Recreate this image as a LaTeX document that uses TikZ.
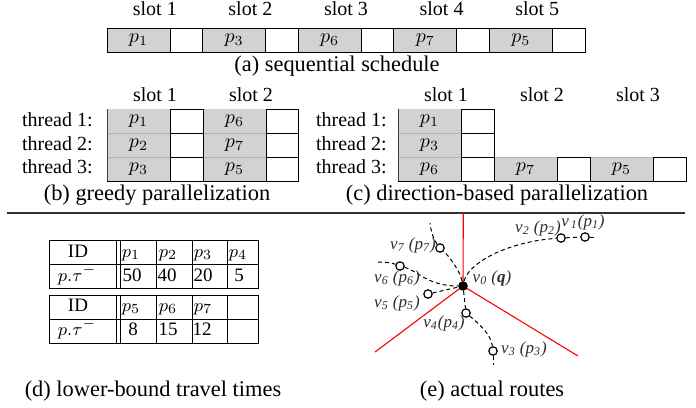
\documentclass[tikz,border=0pt]{standalone}
\usepackage{fontspec}
\setmainfont{Liberation Serif}
\begin{document}
\begin{tikzpicture}[x=0.5pt,y=-0.5pt,
  lbl/.style={font=\fontsize{10}{12}\selectfont, inner sep=0pt, anchor=base},
  thr/.style={font=\fontsize{10}{12}\selectfont, inner sep=0pt, anchor=base east},
  captxt/.style={font=\fontsize{11.2}{13}\selectfont, inner sep=0pt, anchor=base},
  cell/.style={font=\fontsize{10}{12}\selectfont, inner sep=0pt},
  tbl/.style={font=\fontsize{9.5}{11}\selectfont, inner sep=0pt, anchor=base},
  gfill/.style={fill=gray!35},
  gline/.style={draw=gray!60, line width=0.4pt},
  dline/.style={draw=black!75, line width=0.5pt},
  cellline/.style={draw=black, line width=0.5pt},
  route/.style={draw=black, line width=0.5pt, dash pattern=on 2pt off 1.5pt},
  vtx/.style={circle, draw=black, line width=0.6pt, fill=white, minimum size=4.2pt, inner sep=0pt},
  src/.style={circle, fill=black, minimum size=4.8pt, inner sep=0pt},
  vl/.style={font=\fontsize{8.5}{10}\selectfont\itshape, text=black!82, inner sep=0pt},
  redline/.style={draw=red, line width=0.55pt}
]
\useasboundingbox (0,0) rectangle (696,407);

% ---------- (a) sequential schedule ----------
\foreach \k/\p in {1/1,2/3,3/6,4/7,5/5} {
  \pgfmathsetmacro\xa{107+95.6*(\k-1)}
  \fill[gfill] (\xa,28) rectangle ++(63,24);
  \draw[cellline] (\xa,28) rectangle ++(63,24);
  \draw[cellline] (\xa+63,28) rectangle ++(32.6,24);
  \node[cell] (ap\k) at (\xa+31.5,40) {$p_{\p}$};
  \node[lbl] (as\k) at (\xa+47.8,16) {slot \k};
}
\node[captxt] (capa) at (337,71) {(a) sequential schedule};

% ---------- (b) greedy parallelization ----------
\fill[gfill] (107,109) rectangle (170,181);
\fill[gfill] (203,109) rectangle (266,181);
\foreach \yy in {133,157} {
  \draw[gline] (107,\yy) -- (170,\yy);
  \draw[gline] (203,\yy) -- (266,\yy);
}
\draw[dline] (107,109) -- (107,181);
\foreach \r in {0,1,2} {
  \draw[cellline] (170,109+24*\r) rectangle ++(33,24);
  \draw[cellline] (266,109+24*\r) rectangle ++(32,24);
}
\draw[cellline] (107,181) -- (298,181);
\node[lbl] (bs1) at (155,101) {slot 1};
\node[lbl] (bs2) at (251,101) {slot 2};
\node[thr] (bt1) at (93,126.5) {thread 1:};
\node[thr] (bt2) at (93,150) {thread 2:};
\node[thr] (bt3) at (93,173.5) {thread 3:};
\node[cell] (bp1) at (138.5,121) {$p_1$};
\node[cell] (bp2) at (138.5,145) {$p_2$};
\node[cell] (bp3) at (138.5,169) {$p_3$};
\node[cell] (bp6) at (234.5,121) {$p_6$};
\node[cell] (bp7) at (234.5,145) {$p_7$};
\node[cell] (bp5) at (234.5,169) {$p_5$};
\node[captxt] (capb) at (157,200) {(b) greedy parallelization};

% ---------- (c) direction-based parallelization ----------
\fill[gfill] (398,109) rectangle (461,181);
\fill[gfill] (494,157) rectangle (557,181);
\fill[gfill] (590,157) rectangle (653,181);
\draw[gline] (398,133) -- (461,133);
\draw[gline] (398,157) -- (461,157);
\draw[gline] (494,157) -- (557,157);
\draw[gline] (590,157) -- (653,157);
\draw[dline] (398,109) -- (398,181);
\foreach \r in {0,1,2} {
  \draw[cellline] (461,109+24*\r) rectangle ++(33,24);
}
\draw[cellline] (557,157) rectangle (590,181);
\draw[cellline] (653,157) rectangle (686,181);
\draw[cellline] (398,181) -- (686,181);
\node[lbl] (cs1) at (446,101) {slot 1};
\node[lbl] (cs2) at (542,101) {slot 2};
\node[lbl] (cs3) at (638,101) {slot 3};
\node[thr] (ct1) at (387,126.5) {thread 1:};
\node[thr] (ct2) at (387,150) {thread 2:};
\node[thr] (ct3) at (387,173.5) {thread 3:};
\node[cell] (cp1) at (429.5,121) {$p_1$};
\node[cell] (cp3) at (429.5,145) {$p_3$};
\node[cell] (cp6) at (429.5,169) {$p_6$};
\node[cell] (cp7) at (525.5,169) {$p_7$};
\node[cell] (cp5) at (621.5,169) {$p_5$};
\node[captxt] (capc) at (497,200) {(c) direction-based parallelization};

% ---------- rule ----------
\draw[line width=0.7pt, black!80] (7,213) -- (685,213);

% ---------- (d) lower-bound travel times ----------
\foreach \ty in {240,295} {
  \draw[cellline] (49,\ty) rectangle (258,\ty+48.5);
  \draw[cellline] (49,\ty+24) -- (258,\ty+24);
  \foreach \vx in {116,120,156,192,227} {
    \draw[cellline] (\vx,\ty) -- (\vx,\ty+48.5);
  }
}
\node[tbl] (d1id) at (78,257) {ID};
\node[tbl] (d1tau) at (77,281) {$p.\tau^{-}$};
\node[tbl] (d1p1) at (131,257) {$p_1$};
\node[tbl] (d1p2) at (168,257) {$p_2$};
\node[tbl] (d1p3) at (203,257) {$p_3$};
\node[tbl] (d1p4) at (238,257) {$p_4$};
\node[tbl] (d1v1) at (132,281) {50};
\node[tbl] (d1v2) at (167,281) {40};
\node[tbl] (d1v3) at (203,281) {20};
\node[tbl] (d1v4) at (239,281) {5};
\node[tbl] (d2id) at (78,311) {ID};
\node[tbl] (d2tau) at (77,335.5) {$p.\tau^{-}$};
\node[tbl] (d2p5) at (131,311) {$p_5$};
\node[tbl] (d2p6) at (168,311) {$p_6$};
\node[tbl] (d2p7) at (203,311) {$p_7$};
\node[tbl] (d2v5) at (133,335.5) {8};
\node[tbl] (d2v6) at (168,335.5) {15};
\node[tbl] (d2v7) at (202,335.5) {12};
\node[captxt] (capd) at (153,396) {(d) lower-bound travel times};

% ---------- (e) actual routes ----------
\coordinate (c0) at (463,286);
\coordinate (rt) at (463.3,213);
\coordinate (rl) at (375,352);
\coordinate (rr) at (578,356);
\draw[redline] (c0) -- (rt);
\draw[redline] (c0) -- (rl);
\draw[redline] (c0) -- (rr);

\node[vtx] (v1) at (585,237) {};
\node[vtx] (v2) at (561,238) {};
\node[vtx] (v7) at (440,248) {};
\node[vtx] (v6) at (400,266) {};
\node[vtx] (v5) at (428,294) {};
\node[vtx] (v4) at (466,313) {};
\node[vtx] (v3) at (493,351) {};
\node[src] (C) at (c0) {};
\coordinate (e1) at (594,237);
\coordinate (e7) at (430,223);
\coordinate (e6) at (378,262);
\coordinate (e3) at (493,365);

\draw[route] (C) .. controls (468,264) and (505,242) .. (v2);
\draw[route] (v2) -- (v1);
\draw[route] (v1) -- (e1);
\draw[route] (C) .. controls (460,271) and (449,256) .. (v7);
\draw[route] (v7) .. controls (434,240) and (431,232) .. (e7);
\draw[route] (e6) .. controls (386,262) and (392,263) .. (v6);
\draw[route] (v6) .. controls (418,271) and (428,286) .. (C);
\draw[route] (v5) -- (C);
\draw[route] (C) -- (v4);
\draw[route] (v4) .. controls (478,323) and (491,334) .. (v3);
\draw[route] (v3) -- (e3);

\node[vl] (l1) at (583,222) {v\textsubscript{\,1}(p\textsubscript{1})};
\node[vl] (l2) at (538,228) {v\textsubscript{2} (p\textsubscript{2})};
\node[vl] (l7) at (413,245) {v\textsubscript{7} (p\textsubscript{7})};
\node[vl] (l6) at (397,278) {v\textsubscript{6} (p\textsubscript{6})};
\node[vl] (l5) at (397,303) {v\textsubscript{5} (p\textsubscript{5})};
\node[vl] (l4) at (444,323) {v\textsubscript{4}(p\textsubscript{4})};
\node[vl] (l3) at (524,349) {v\textsubscript{3} (p\textsubscript{3})};
\node[vl] (l0) at (492,278) {v\textsubscript{0} (\textbf{q})};
\node[captxt] (cape) at (492,396) {(e) actual routes};
\end{tikzpicture}
\end{document}
